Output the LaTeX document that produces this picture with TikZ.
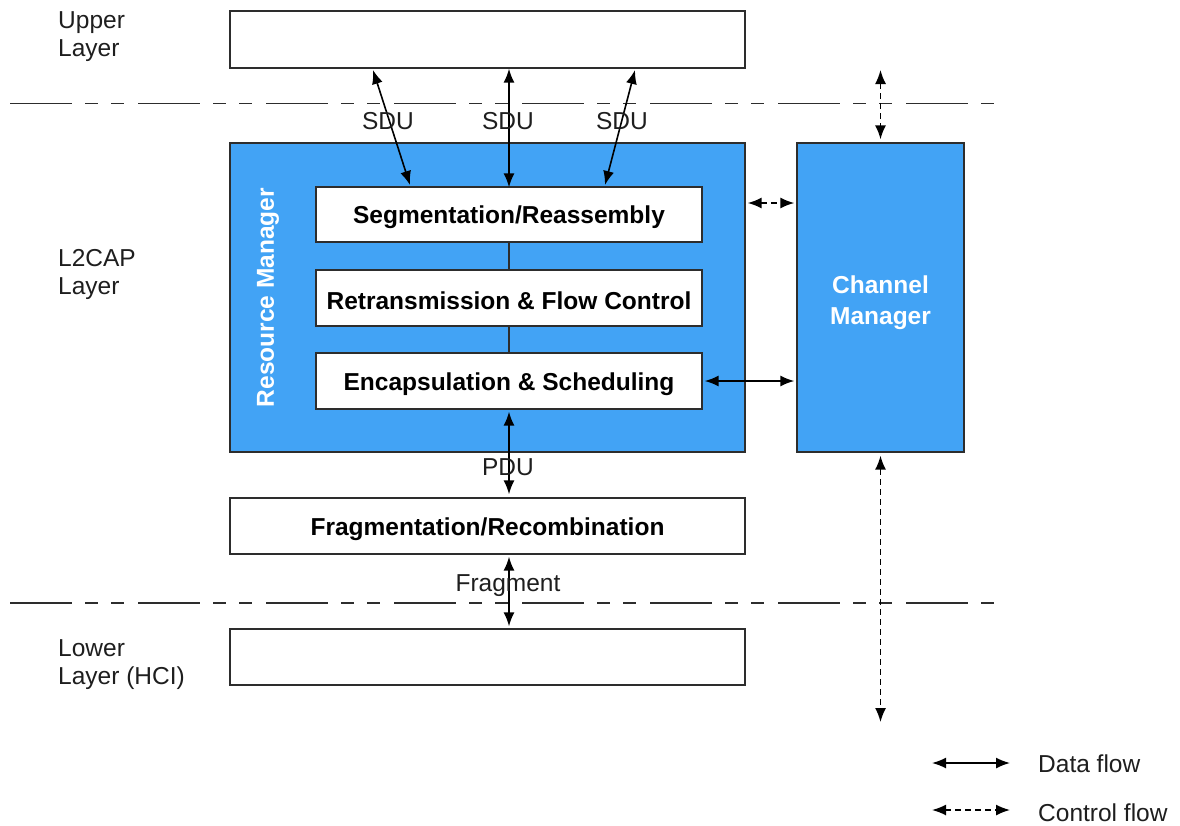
\documentclass[tikz,border=0pt]{standalone}
\usepackage{fontspec}
\setmainfont{Liberation Sans}
\usetikzlibrary{arrows.meta,calc}
\definecolor{rmblue}{RGB}{66,163,245}
\definecolor{edge}{RGB}{45,45,45}
\definecolor{txt}{RGB}{30,30,30}
\tikzset{
  box/.style={draw=edge, line width=1.4pt, fill=white, inner sep=0pt, minimum width=#1},
  bluebox/.style={draw=edge, line width=1.4pt, fill=rmblue, inner sep=0pt},
  btxt/.style={font=\fontsize{24.5}{28}\selectfont\bfseries, text=black},
  intext/.style={label={[btxt, yshift=-3pt]center:#1}},
  ltxt/.style={font=\fontsize{24.5}{28}\selectfont, text=txt, inner sep=0pt},
  data/.style={line width=1.6pt, draw=black, {Latex[length=14pt,width=11pt]}-{Latex[length=14pt,width=11pt]}},
  ctrl/.style={data, dash pattern=on 6pt off 4pt},
  layerline/.style={line width=1.5pt, draw=edge, dash pattern=on 62pt off 13pt on 13pt off 13pt on 13pt off 14pt}
}
\begin{document}
\begin{tikzpicture}[x=1pt,y=-1pt]
\useasboundingbox (0,0) rectangle (1180,825);
% layer lines
\coordinate (l1a) at (10,103.5); \coordinate (l1b) at (1000,103.5);
\coordinate (l2a) at (10,603); \coordinate (l2b) at (1000,603);
\draw[layerline] (l1a) -- (l1b);
\draw[layerline] (l2a) -- (l2b);
% boxes
\node[box=515pt, minimum height=57pt] (upper) at (487.5,39.5) {};
\node[bluebox, minimum width=515pt, minimum height=309pt] (rm) at (487.5,297.5) {};
\node[bluebox, minimum width=167pt, minimum height=309pt] (cm) at (880.5,297.5) {};
\node[box=386pt, minimum height=55pt, intext={Segmentation/Reassembly}] (seg) at (509,214.5) {};
\node[box=386pt, minimum height=56pt, intext={Retransmission \& Flow Control}] (ret) at (509,298) {};
\node[box=386pt, minimum height=56pt, intext={Encapsulation \& Scheduling}] (enc) at (509,381) {};
\node[box=515pt, minimum height=56pt, intext={Fragmentation/Recombination}] (frag) at (487.5,526) {};
\node[box=515pt, minimum height=56pt] (lower) at (487.5,657) {};
% blue box labels
\node[btxt, text=white, rotate=90] (rmlabel) at (268,297.5) {Resource Manager};
\node[btxt, text=white, align=center, font=\fontsize{24.5}{31}\selectfont\bfseries] (cmlabel) at (880.5,303) {Channel\\Manager};
% layer labels
\node[ltxt, anchor=west, align=left] (lup) at (58,37) {Upper\\Layer};
\node[ltxt, anchor=west, align=left] (ll2) at (58,274) {L2CAP\\Layer};
\node[ltxt, anchor=west, align=left] (llow) at (58,665) {Lower\\Layer (HCI)};
% inner connectors
\draw[line width=1.4pt, draw=edge] (seg.south) -- (ret.north);
\draw[line width=1.4pt, draw=edge] (ret.south) -- (enc.north);
% SDU arrows
\coordinate (u1) at (373,70); \coordinate (s1) at (410,185);
\coordinate (u3) at (635,70); \coordinate (s3) at (605,185);
\draw[data] (u1) -- (s1);
\draw[data] (seg.north |- upper.south) -- ([yshift=-1pt]seg.north);
\draw[data] (u3) -- (s3);
\node[ltxt] (sdu1) at (388,121) {SDU};
\node[ltxt] (sdu2) at (508,121) {SDU};
\node[ltxt] (sdu3) at (622,121) {SDU};
% RM <-> CM
\draw[ctrl, shorten <=2pt, shorten >=2pt] (rm.east |- 0,203) -- (cm.west |- 0,203);
\draw[data, shorten <=2pt, shorten >=2pt] (enc.east) -- (cm.west |- enc.east);
% control to CM
\coordinate (ctop) at (880.5,70); \coordinate (cbot) at (880.5,722);
\draw[ctrl, shorten >=3pt] (ctop) -- (cm.north);
\draw[ctrl, shorten <=3pt] (cm.south) -- (cbot);
% PDU and Fragment
\draw[data, shorten <=2pt, shorten >=3pt] (enc.south) -- (enc.south |- frag.north);
\node[ltxt] (pdu) at (508,467) {PDU};
\draw[data, shorten <=2pt, shorten >=2pt] (enc.south |- frag.south) -- (enc.south |- lower.north);
\node[ltxt] (fragl) at (508,586) {Fragment};
% legend
\coordinate (d1) at (932,763); \coordinate (d2) at (1010,763);
\coordinate (c1) at (932,810); \coordinate (c2) at (1010,810);
\draw[data] (d1) -- (d2);
\draw[ctrl] (c1) -- (c2);
\node[ltxt, anchor=west] (dflow) at (1038,764) {Data flow};
\node[ltxt, anchor=west] (cflow) at (1038,813) {Control flow};
\end{tikzpicture}
\end{document}
